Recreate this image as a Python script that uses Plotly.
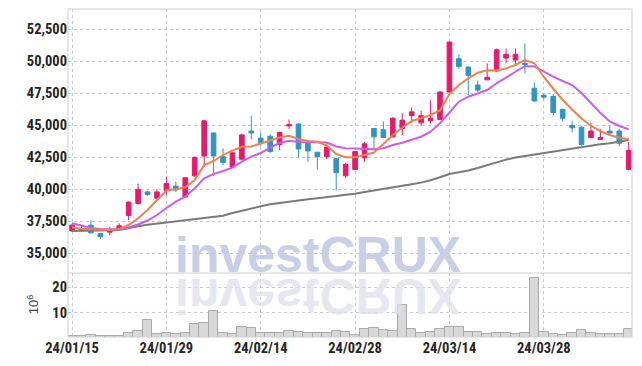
import plotly.graph_objects as go

dates = [
    "2024-01-15", "2024-01-16", "2024-01-17", "2024-01-18", "2024-01-19",
    "2024-01-22", "2024-01-23", "2024-01-24", "2024-01-25", "2024-01-26",
    "2024-01-29", "2024-01-30", "2024-01-31", "2024-02-01", "2024-02-02",
    "2024-02-05", "2024-02-06", "2024-02-07", "2024-02-08", "2024-02-13",
    "2024-02-14", "2024-02-15", "2024-02-16", "2024-02-19", "2024-02-20",
    "2024-02-21", "2024-02-22", "2024-02-23", "2024-02-26", "2024-02-27",
    "2024-02-28", "2024-02-29", "2024-03-04", "2024-03-05", "2024-03-06",
    "2024-03-07", "2024-03-08", "2024-03-11", "2024-03-12", "2024-03-13",
    "2024-03-14", "2024-03-15", "2024-03-18", "2024-03-19", "2024-03-20",
    "2024-03-21", "2024-03-22", "2024-03-25", "2024-03-26", "2024-03-27",
    "2024-03-28", "2024-03-29", "2024-04-01", "2024-04-02", "2024-04-03",
    "2024-04-04", "2024-04-05", "2024-04-08", "2024-04-09", "2024-04-11",
]

open_ = [36750, 36800, 37200, 36550, 36650, 36900, 37950, 38900, 39800, 39300,
         39900, 40250, 39400, 41050, 42600, 44400, 42550, 41750, 42350, 44550,
         44000, 44150, 43500, 44950, 45100, 43600, 42900, 42550, 42400, 41050,
         41550, 42450, 44750, 44650, 44100, 44750, 45750, 45200, 45350, 45450,
         47600, 50200, 49550, 48150, 48550, 49250, 50250, 50100, 49850, 47900,
         47350, 47250, 46250, 45000, 44850, 44050, 43900, 44550, 44550, 41550]
high = [37300, 37100, 37600, 36600, 37050, 37350, 39050, 40450, 39900, 40000,
        41000, 40600, 40950, 42550, 45400, 44400, 43200, 42900, 44350, 45750,
        44450, 44300, 44500, 45450, 45150, 43650, 42900, 43600, 42450, 42050,
        43000, 43700, 44800, 45300, 45650, 45950, 46400, 46150, 46950, 47650,
        51550, 50550, 49600, 48500, 49850, 51000, 51000, 51000, 51400, 48350,
        47500, 47450, 46300, 45350, 44950, 45200, 44700, 44950, 44700, 43700]
low = [36700, 36650, 36550, 36100, 36400, 36800, 37600, 38800, 39500, 39300,
       39550, 39800, 39400, 41000, 41750, 41050, 41900, 41700, 42300, 43900,
       43350, 42850, 43050, 44700, 42500, 42150, 41550, 42350, 39900, 40850,
       41500, 42150, 43050, 44000, 44050, 44250, 45200, 44950, 45150, 45400,
       47550, 49400, 47350, 47600, 48550, 49150, 49850, 49700, 49050, 46850,
       47050, 45800, 45300, 44450, 43400, 44000, 43850, 44250, 43350, 41500]
close = [37200, 36900, 36600, 36300, 36800, 37150, 39000, 40000, 39600, 39800,
         40450, 39950, 40900, 42500, 45350, 42600, 42100, 42850, 44250, 44400,
         43650, 42950, 44450, 45050, 43150, 43000, 42550, 43300, 41300, 41950,
         42950, 43550, 44100, 44050, 45550, 45400, 46050, 45750, 45550, 47600,
         51500, 49600, 48900, 47750, 48750, 50900, 50550, 50550, 49750, 46900,
         47200, 46000, 45550, 44800, 43500, 44550, 44050, 44400, 43600, 43050]

ma_short = [37031, 36922, 36875, 36820, 36820, 36898, 37211, 37734, 38383, 39164,
            39906, 40000, 40156, 40727, 41898, 42211, 42680, 43016, 43328, 43344,
            43578, 43813, 44047, 44180, 43930, 43773, 43711, 43422, 42758, 42500,
            42500, 42680, 42875, 43539, 44242, 44813, 45336, 45547, 45805, 46157,
            47445, 48148, 48672, 49109, 49305, 49281, 49438, 49711, 50102, 49844,
            48773, 47875, 46977, 46234, 45531, 44945, 44555, 44242, 44031, 43930]
ma_mid = [37344, 37133, 36977, 36898, 36859, 36875, 37016, 37250, 37563, 37992,
          38539, 39031, 39422, 40078, 40859, 41195, 41430, 41688, 42156, 42547,
          42836, 43266, 43617, 43797, 43695, 43672, 43672, 43656, 43344, 43203,
          43188, 43172, 43125, 43203, 43461, 43641, 43891, 44109, 44500, 45156,
          46000, 46844, 47234, 47500, 47758, 48281, 48750, 49188, 49633, 49594,
          49164, 48797, 48461, 48148, 47523, 46742, 45961, 45297, 44945, 44688]
ma_long = [36742, 36742, 36758, 36773, 36797, 36820, 36977, 37117, 37227, 37313,
           37391, 37469, 37555, 37641, 37719, 37805, 37930, 38148, 38336, 38500,
           38672, 38828, 38938, 39047, 39164, 39227, 39305, 39375, 39469, 39578,
           39648, 39797, 39906, 40023, 40133, 40242, 40391, 40523, 40703, 40945,
           41195, 41336, 41469, 41664, 41898, 42094, 42320, 42484, 42602, 42703,
           42813, 42953, 43078, 43203, 43320, 43438, 43523, 43602, 43719, 43852]

volume_m = [0.9, 0.9, 1.3, 0.8, 0.8, 0.8, 2.1, 2.9, 7.1, 1.6,
            1.8, 1.6, 1.8, 5.4, 5.9, 10.6, 1.8, 1.6, 4.2, 3.8,
            1.8, 1.8, 1.8, 2.6, 2.3, 1.8, 1.8, 1.8, 2.6, 2.3,
            1.4, 3.4, 3.8, 3.0, 2.6, 13.0, 3.4, 1.8, 2.2, 3.4,
            4.3, 4.3, 2.3, 2.3, 1.6, 1.9, 1.9, 1.6, 1.9, 23.5,
            2.3, 1.6, 1.2, 1.9, 3.0, 1.9, 1.6, 1.6, 1.6, 3.4]

tick_dates = ["2024-01-15", "2024-01-29", "2024-02-14", "2024-02-28", "2024-03-14", "2024-03-28"]
tick_text = ["24/01/15", "24/01/29", "24/02/14", "24/02/28", "24/03/14", "24/03/28"]
price_ticks = [35000, 37500, 40000, 42500, 45000, 47500, 50000, 52500]
volume_ticks = [10, 20]

UP = "#e8196b"
DOWN = "#2e95c6"
GRID = "#c8c8dc"
TICKFONT = dict(family="Roboto Condensed, DejaVu Sans Condensed", size=14.5, color="#262626", weight="bold")

fig = go.Figure()
fig.add_trace(go.Bar(
    x=dates, y=volume_m, xaxis="x", yaxis="y2",
    marker=dict(color="#d9d9d9", line=dict(color="#aaaaaa", width=1)),
    hoverinfo="skip", showlegend=False,
))
fig.add_trace(go.Candlestick(
    x=dates, open=open_, high=high, low=low, close=close,
    xaxis="x", yaxis="y",
    increasing=dict(line=dict(color=UP, width=1), fillcolor=UP),
    decreasing=dict(line=dict(color=DOWN, width=1), fillcolor=DOWN),
    whiskerwidth=0, showlegend=False, hoverinfo="skip",
))
fig.add_trace(go.Scatter(x=dates, y=ma_long, mode="lines", line=dict(color="#7a7a7a", width=2),
                         xaxis="x", yaxis="y", showlegend=False, hoverinfo="skip"))
fig.add_trace(go.Scatter(x=dates, y=ma_mid, mode="lines", line=dict(color="#cc5cf0", width=2),
                         xaxis="x", yaxis="y", showlegend=False, hoverinfo="skip"))
fig.add_trace(go.Scatter(x=dates, y=ma_short, mode="lines", line=dict(color="#f0824e", width=2),
                         xaxis="x", yaxis="y", showlegend=False, hoverinfo="skip"))

VOL_TOP = 0.195

fig.update_layout(
    width=634, height=358,
    margin=dict(l=60, r=10, t=1, b=29),
    paper_bgcolor="white", plot_bgcolor="white",
    bargap=0,
    showlegend=False,
    xaxis=dict(
        type="category", anchor="y2", range=[-0.43, 59.35],
        tickmode="array", tickvals=tick_dates, ticktext=tick_text,
        showgrid=True, gridcolor=GRID, griddash="dot", gridwidth=1,
        zeroline=False, showline=False, ticks="", automargin=False,
        tickfont=TICKFONT, rangeslider=dict(visible=False),
    ),
    yaxis=dict(
        domain=[VOL_TOP, 1], range=[33460, 54085],
        tickmode="array", tickvals=price_ticks, tickformat=",",
        showgrid=True, gridcolor=GRID, griddash="dot", gridwidth=1,
        zeroline=False, showline=False, ticks="", automargin=False,
        tickfont=TICKFONT,
    ),
    yaxis2=dict(
        domain=[0, VOL_TOP], range=[0.43, 25.63],
        tickmode="array", tickvals=volume_ticks,
        showgrid=True, gridcolor=GRID, griddash="dot", gridwidth=1,
        zeroline=False, showline=False, ticks="", automargin=False,
        tickfont=TICKFONT,
    ),
    shapes=[
        dict(type="rect", xref="paper", yref="paper", x0=0, x1=1, y0=0, y1=1,
             line=dict(color="#cfcfd6", width=1), layer="above"),
        dict(type="line", xref="paper", yref="paper", x0=0, x1=1, y0=VOL_TOP, y1=VOL_TOP,
             line=dict(color="#cfcfd6", width=1), layer="above"),
    ],
    annotations=[
        dict(text="investCRUX", xref="paper", yref="paper", x=0.4426, y=0.2515,
             xanchor="center", yanchor="middle", showarrow=False,
             font=dict(family="Liberation Sans", size=50, color="rgba(190,199,226,0.85)", weight="bold")),
        dict(text="investCRUX", xref="paper", yref="paper", x=0.4426, y=0.125,
             xanchor="center", yanchor="middle", showarrow=False,
             font=dict(family="Liberation Sans", size=50, color="rgba(222,224,236,0.75)", weight="bold")),
        dict(text="10<sup>6</sup>", xref="paper", yref="paper", x=-0.062, y=0.10,
             xanchor="center", yanchor="middle", showarrow=False, textangle=-90,
             font=dict(family="Liberation Sans", size=13, color="#444444")),
    ],
)

flip_js = """
function flipReflection(){
  var gd = document.getElementById('{plot_id}');
  if(!gd) return;
  var t = gd.querySelector('.annotation[data-index="1"] text.annotation-text');
  if(!t || t.getAttribute('data-flipped')) return;
  var bb = t.getBBox();
  var cy = bb.y + bb.height / 2;
  var prev = t.getAttribute('transform') || '';
  t.setAttribute('transform', prev + ' translate(0,' + (2 * cy) + ') scale(1,-1)');
  t.setAttribute('data-flipped', '1');
}
flipReflection();
setTimeout(flipReflection, 50);
"""

fig.write_html("out.html", post_script=flip_js)
